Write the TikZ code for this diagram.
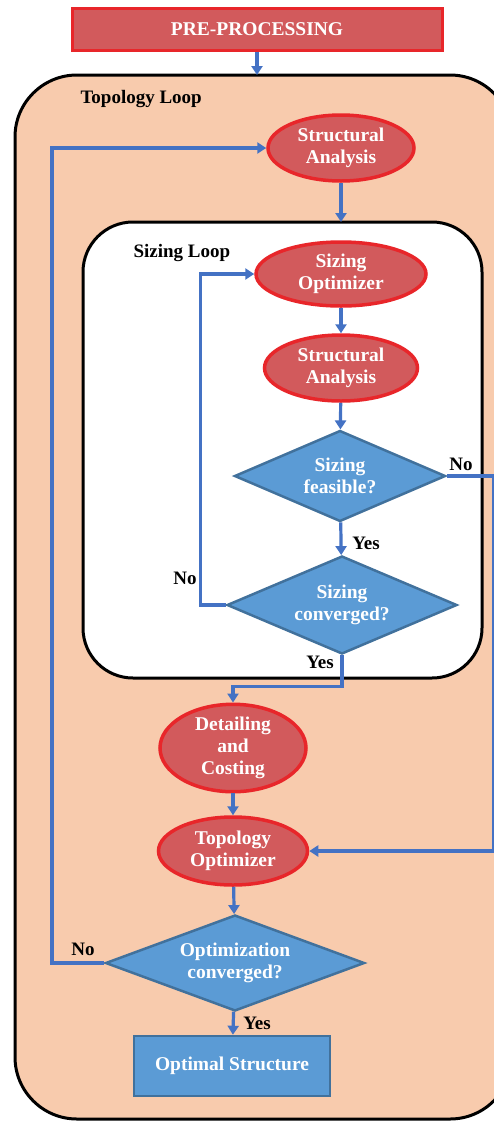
\documentclass[tikz,border=0pt]{standalone}
\usepackage{fontspec}
\setmainfont{Liberation Serif}
\usetikzlibrary{shapes.geometric,arrows.meta}

\definecolor{procfill}{HTML}{D25A5C}
\definecolor{procline}{HTML}{E8262A}
\definecolor{decfill}{HTML}{5B9BD5}
\definecolor{decline}{HTML}{41719C}
\definecolor{flowblue}{HTML}{4472C4}
\definecolor{loopfill}{HTML}{F8CBAD}

\tikzset{
  txt/.style={font=\bfseries\fontsize{19.5}{22}\selectfont, align=center},
  proc/.style={ellipse, draw=procline, fill=procfill, line width=3.5pt, text=white, txt, inner sep=0pt},
  decision/.style={diamond, draw=decline, fill=decfill, line width=2.5pt, text=white, txt, inner sep=0pt, shape aspect=2.3},
  lbl/.style={font=\bfseries\fontsize{19}{22}\selectfont, text=black},
  flowline/.style={draw=flowblue, line width=3.2pt, -{Triangle[length=9pt,width=11pt]}}
}

\begin{document}
\begin{tikzpicture}[x=1pt,y=-1pt]
  \useasboundingbox (0,0) rectangle (494,1122);

  % loops
  \draw[line width=3pt, fill=loopfill, rounded corners=62pt] (15,75) rectangle (512,1119);
  \draw[line width=3pt, fill=white, rounded corners=50pt] (83,222) rectangle (482,678);
  \node[lbl, anchor=west] (toplbl) at (77,99) {Topology Loop};
  \node[lbl, anchor=west] (sizlbl) at (130,253) {Sizing Loop};
  \coordinate (tloop) at (257,75);
  \coordinate (sloop) at (341,222);

  % boxes
  \node[draw=procline, fill=procfill, line width=3pt, text=white, txt,
        minimum width=370pt, minimum height=42pt] (pre) at (257,29) {PRE-PROCESSING};
  \node[proc, minimum width=146pt, minimum height=66pt] (sa1) at (341,148) {Structural\\Analysis};
  \node[proc, minimum width=170pt, minimum height=64pt] (sopt) at (341,274) {Sizing\\Optimizer};
  \node[proc, minimum width=153pt, minimum height=66pt] (sa2) at (341,368) {Structural\\Analysis};
  \node[decision, minimum width=211pt, minimum height=91pt] (feas) at (340,476) {Sizing\\feasible?};
  \node[decision, minimum width=230pt, minimum height=98pt] (sconv) at (342,605) {Sizing\\converged?};
  \node[proc, minimum width=146pt, minimum height=79pt] (detail) at (233,748) {Detailing\\and\\Costing};
  \node[proc, minimum width=149pt, minimum height=68pt] (topt) at (233,851) {Topology\\Optimizer};
  \node[decision, minimum width=259pt, minimum height=96pt] (oconv) at (235,963) {Optimization\\converged?};
  \node[draw=decline, fill=decfill, line width=2.5pt, text=white, txt,
        minimum width=196pt, minimum height=60pt] (final) at (232,1066) {Optimal Structure};

  % connectors
  \draw[flowline] (pre) -- (tloop);
  \draw[flowline] (sa1) -- (sloop);
  \draw[flowline] (sopt) -- (sa2);
  \draw[flowline] (sa2) -- (feas);
  \draw[flowline] (feas) -- (sconv);
  \draw[flowline] (feas.east) -- ++(47,0) |- (topt.east);
  \draw[flowline] (sconv.west) -- ++(-25,0) |- (sopt.west);
  \draw[flowline] (sconv.south) -- ++(0,31) -| (detail.north);
  \draw[flowline] (detail) -- (topt);
  \draw[flowline] (topt) -- (oconv);
  \draw[flowline] (oconv) -- (final);
  \draw[flowline] (oconv.west) -- (52,963) |- (sa1.west);

  % labels
  \node[lbl] (yesf) at (366,543) {Yes};
  \node[lbl] (nof) at (461,464) {No};
  \node[lbl] (nosc) at (185,578) {No};
  \node[lbl] (yessc) at (320,662) {Yes};
  \node[lbl] (nooc) at (83,949) {No};
  \node[lbl] (yesoc) at (257,1023) {Yes};
\end{tikzpicture}
\end{document}
